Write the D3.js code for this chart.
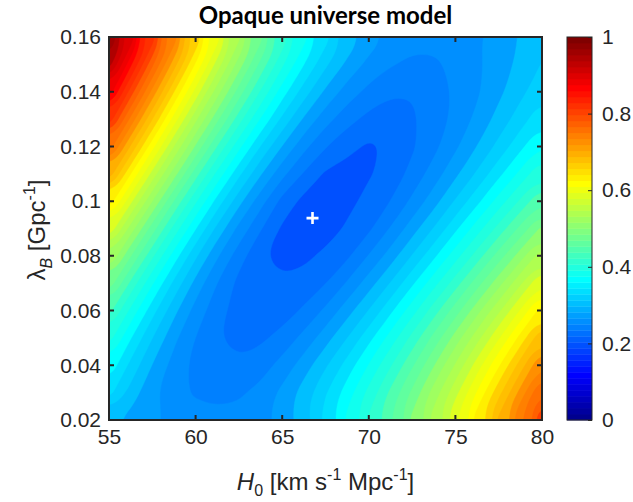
<!DOCTYPE html>
<html><head><meta charset="utf-8">
<script src="https://cdn.jsdelivr.net/npm/d3@7"></script>
<style>body{margin:0;background:#fff}</style></head><body>
<svg id="c" width="633" height="502"></svg>
<script>
// ---- data ----
const H0_GRID = [55,56.25,57.5,58.75,60,61.25,62.5,63.75,65,66.25,67.5,68.75,70,71.25,72.5,73.75,75,76.25,77.5,78.75,80];
const LAMBDA_GRID = [0.16,0.15,0.14,0.13,0.12,0.11,0.10,0.09,0.08,0.07,0.06,0.05,0.04,0.03,0.02];
// normalised map value at each (lambda row, H0 column)
const FIELD = [
 [0.995,0.916,0.832,0.753,0.679,0.610,0.545,0.487,0.434,0.388,0.348,0.316,0.292,0.276,0.268,0.267,0.270,0.278,0.289,0.301,0.314],
 [0.950,0.865,0.785,0.709,0.638,0.571,0.510,0.454,0.404,0.361,0.324,0.295,0.274,0.262,0.255,0.256,0.265,0.276,0.290,0.305,0.321],
 [0.893,0.811,0.734,0.661,0.593,0.529,0.471,0.418,0.370,0.330,0.296,0.271,0.254,0.242,0.241,0.249,0.263,0.277,0.295,0.314,0.334],
 [0.834,0.755,0.681,0.611,0.545,0.485,0.429,0.379,0.335,0.297,0.268,0.247,0.234,0.232,0.237,0.249,0.265,0.285,0.307,0.330,0.355],
 [0.773,0.698,0.627,0.560,0.497,0.439,0.386,0.339,0.299,0.266,0.241,0.226,0.217,0.223,0.237,0.254,0.276,0.300,0.326,0.354,0.383],
 [0.713,0.641,0.573,0.509,0.449,0.394,0.345,0.302,0.266,0.238,0.217,0.212,0.218,0.227,0.246,0.269,0.295,0.323,0.354,0.385,0.419],
 [0.654,0.585,0.520,0.459,0.403,0.352,0.307,0.268,0.233,0.214,0.208,0.214,0.226,0.240,0.264,0.291,0.322,0.354,0.388,0.423,0.460],
 [0.597,0.531,0.470,0.413,0.361,0.314,0.274,0.242,0.217,0.208,0.209,0.223,0.236,0.261,0.290,0.321,0.355,0.390,0.427,0.465,0.505],
 [0.543,0.481,0.424,0.371,0.323,0.282,0.249,0.222,0.213,0.215,0.225,0.236,0.261,0.289,0.321,0.355,0.391,0.429,0.469,0.510,0.553],
 [0.493,0.435,0.382,0.335,0.293,0.259,0.234,0.224,0.223,0.228,0.239,0.262,0.290,0.321,0.356,0.392,0.430,0.471,0.512,0.556,0.602],
 [0.447,0.395,0.348,0.306,0.272,0.248,0.231,0.227,0.230,0.243,0.264,0.291,0.321,0.355,0.391,0.430,0.470,0.512,0.556,0.602,0.651],
 [0.408,0.361,0.320,0.285,0.259,0.241,0.233,0.236,0.247,0.266,0.291,0.320,0.353,0.388,0.426,0.466,0.508,0.552,0.598,0.647,0.699],
 [0.375,0.334,0.299,0.272,0.253,0.243,0.243,0.251,0.267,0.290,0.317,0.348,0.382,0.418,0.457,0.499,0.543,0.589,0.638,0.689,0.743],
 [0.347,0.312,0.284,0.267,0.257,0.254,0.257,0.266,0.285,0.309,0.338,0.370,0.406,0.444,0.484,0.528,0.573,0.622,0.673,0.727,0.784],
 [0.308,0.292,0.284,0.276,0.270,0.266,0.267,0.275,0.289,0.315,0.348,0.385,0.423,0.462,0.505,0.550,0.600,0.652,0.705,0.762,0.825]
];
const BEST_FIT = [66.75, 0.0938];
const X_TICKS = [55,60,65,70,75,80];
const Y_TICKS = [0.02,0.04,0.06,0.08,0.1,0.12,0.14,0.16];
const C_TICKS = [0,0.2,0.4,0.6,0.8,1];
const LEVEL_STEP = 0.02;
const TITLE = 'Opaque universe model';

// ---- layout ----
const P = {l:109, r:542, t:37, b:420};
const CB = {x:567, w:25};
const AX = '#262626';
const FONT = 'Liberation Sans, Arial, Helvetica, sans-serif';
const svg = d3.select('#c');
const xs = d3.scaleLinear().domain([H0_GRID[0], H0_GRID[H0_GRID.length-1]]).range([P.l, P.r]);
const ys = d3.scaleLinear().domain([LAMBDA_GRID[LAMBDA_GRID.length-1], LAMBDA_GRID[0]]).range([P.b, P.t]);

// MATLAB jet(64)
function jet(k){
  const u=[];for(let i=1;i<=16;i++)u.push(i/16);for(let i=0;i<15;i++)u.push(1);for(let i=16;i>=1;i--)u.push(i/16);
  const c=o=>{const j=k-o;return(j>=1&&j<=47)?u[j-1]:0;};
  return d3.rgb(c(24)*255,c(8)*255,c(-8)*255).toString();
}
const colOf = v => jet(Math.min(64, Math.floor(v*64+1e-9)+1));

// ---- filled contours ----
const n = H0_GRID.length, m = LAMBDA_GRID.length;
const values = [];
FIELD.forEach(row => row.forEach(v => values.push(v)));
const levels = d3.range(0, Math.round(1/LEVEL_STEP)+1).map(i => +(i*LEVEL_STEP).toFixed(2));
const contours = d3.contours().size([n, m]).thresholds(levels)(values);
const gx = d3.scaleLinear().domain([0, n-1]).range([H0_GRID[0], H0_GRID[n-1]]);
const gy = d3.scaleLinear().domain([0, m-1]).range([LAMBDA_GRID[0], LAMBDA_GRID[m-1]]);
const toPx = ([X, Y]) => {
  if (X === 0) X = -2; else if (X === n) X = n + 2;
  if (Y === 0) Y = -2; else if (Y === m) Y = m + 2;
  return [xs(gx(X - 0.5)), ys(gy(Y - 0.5))];
};
const smooth = d3.line().curve(d3.curveBasisClosed);
function thin(pts){
  const out = [];
  pts.forEach(p => { const q = out[out.length-1]; if (!q || Math.hypot(p[0]-q[0], p[1]-q[1]) > 4) out.push(p); });
  if (out.length > 2) { const a = out[0], z = out[out.length-1]; if (Math.hypot(a[0]-z[0], a[1]-z[1]) < 4) out.pop(); }
  return out;
}
function ringsPath(mp){
  let d = '';
  mp.coordinates.forEach(poly => poly.forEach(ring => { d += smooth(thin(ring.slice(0, -1).map(toPx))); }));
  return d;
}
svg.append('clipPath').attr('id','pc').append('rect').attr('x',P.l).attr('y',P.t).attr('width',P.r-P.l).attr('height',P.b-P.t);
const g = svg.append('g').attr('clip-path','url(#pc)');
g.selectAll('path').data(contours).join('path')
  .attr('d', ringsPath).attr('fill-rule','evenodd')
  .attr('fill', d => colOf(d.value)).attr('stroke', d => colOf(d.value)).attr('stroke-width', 0.4);

// best-fit marker
g.append('path')
  .attr('d', `M${xs(BEST_FIT[0])-6},${ys(BEST_FIT[1])}h12M${xs(BEST_FIT[0])},${ys(BEST_FIT[1])-6}v12`)
  .attr('stroke','#fff').attr('stroke-width',2.6);

// ---- axes ----
svg.append('rect').attr('x',P.l).attr('y',P.t).attr('width',P.r-P.l).attr('height',P.b-P.t)
  .attr('fill','none').attr('stroke',AX).attr('stroke-width',2);
const xAx = svg.append('g').attr('transform',`translate(0,${P.b})`)
  .call(d3.axisBottom(xs).tickValues(X_TICKS).tickSize(0).tickPadding(9).tickFormat(d3.format('d')));
const yAx = svg.append('g').attr('transform',`translate(${P.l},0)`)
  .call(d3.axisLeft(ys).tickValues(Y_TICKS).tickSize(0).tickPadding(8).tickFormat(d => String(d)));
[xAx, yAx].forEach(a => { a.select('.domain').remove(); a.selectAll('text').attr('font-family',FONT).attr('font-size',21).attr('fill',AX); });
X_TICKS.forEach(t => svg.append('path').attr('d',`M${xs(t)},${P.b}v-5M${xs(t)},${P.t}v5`).attr('stroke',AX).attr('stroke-width',2));
Y_TICKS.forEach(t => svg.append('path').attr('d',`M${P.l},${ys(t)}h5M${P.r},${ys(t)}h-5`).attr('stroke',AX).attr('stroke-width',2));

// ---- colorbar ----
const cy = d3.scaleLinear().domain([0,1]).range([P.b, P.t]);
const cbg = svg.append('g');
cbg.selectAll('rect').data(d3.range(1,65)).join('rect')
  .attr('x',CB.x).attr('width',CB.w).attr('y',k=>cy(k/64)).attr('height',k=>cy((k-1)/64)-cy(k/64)+0.4).attr('fill',k=>jet(k));
svg.append('rect').attr('x',CB.x).attr('y',P.t).attr('width',CB.w).attr('height',P.b-P.t).attr('fill','none').attr('stroke',AX).attr('stroke-width',1);
const cAx = svg.append('g').attr('transform',`translate(${CB.x+CB.w},0)`)
  .call(d3.axisRight(cy).tickValues(C_TICKS).tickSize(-4).tickPadding(10).tickFormat(d => String(d)));
cAx.select('.domain').remove();
cAx.selectAll('line').attr('stroke',AX);
cAx.selectAll('text').attr('font-family',FONT).attr('font-size',21).attr('fill',AX);

// ---- titles ----
svg.append('text').attr('x',(P.l+P.r)/2).attr('y',24).attr('text-anchor','middle')
  .attr('font-family','Lato, "Open Sans", sans-serif').attr('font-weight','bold').attr('font-size',24).attr('fill','#000').text(TITLE);
const xl = svg.append('text').attr('x',(P.l+P.r)/2).attr('y',490).attr('text-anchor','middle')
  .attr('font-family',FONT).attr('font-size',24).attr('fill',AX);
xl.append('tspan').attr('font-style','italic').text('H');
xl.append('tspan').attr('dy',6).attr('font-size',16).text('0');
xl.append('tspan').attr('dy',-6).text(' [km s');
xl.append('tspan').attr('dy',-10).attr('font-size',16).text('-1');
xl.append('tspan').attr('dy',10).text(' Mpc');
xl.append('tspan').attr('dy',-10).attr('font-size',16).text('-1');
xl.append('tspan').attr('dy',10).text(']');
const yl = svg.append('text').attr('transform','translate(45,230) rotate(-90)').attr('text-anchor','middle')
  .attr('font-family',FONT).attr('font-size',24).attr('fill',AX);
yl.append('tspan').text('λ');
yl.append('tspan').attr('dy',7).attr('font-size',16).attr('font-style','italic').text('B');
yl.append('tspan').attr('dy',-7).text(' [Gpc');
yl.append('tspan').attr('dy',-10).attr('font-size',16).text('-1');
yl.append('tspan').attr('dy',10).text(']');
</script></body></html>
